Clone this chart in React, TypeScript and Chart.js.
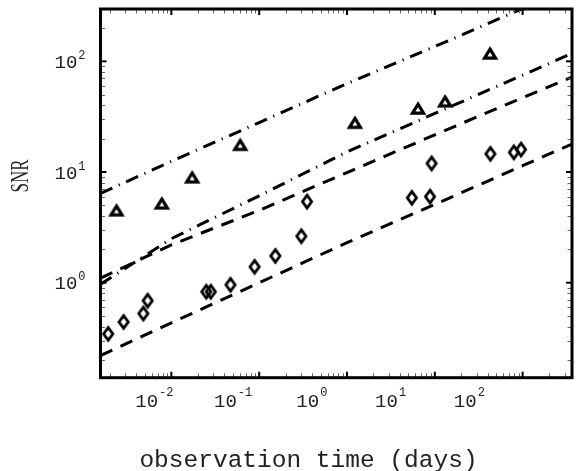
import React, { useEffect, useRef } from "react";
import { Chart, registerables } from "chart.js";

Chart.register(...registerables);

// ---- data ----
const lineTimes = [0.00156, 0.01, 0.1, 1, 10, 100, 365];
const upperDashDot = [6.4, 12.5, 28, 63, 136, 300, 470];
const middleDashDot = [0.97, 2.5, 6.1, 15.2, 33.8, 75, 118];
const upperDashed = [1.1, 2.2, 4.5, 9.9, 21.7, 47, 72];
const lowerDashed = [0.22, 0.434, 1.0, 2.3, 5.1, 11.4, 17.9];

const triangleTimes = [0.00237, 0.00778, 0.01726, 0.0608, 1.23, 6.43, 13.1, 42.5];
const triangleSNR = [4.56, 5.27, 9.06, 17.8, 28.2, 37.9, 44.0, 119.2];

const diamondTimes = [
  0.00191, 0.00286, 0.0048, 0.00537, 0.025, 0.0281, 0.0471, 0.0887, 0.1527,
  0.302, 0.351, 5.48, 8.82, 9.19, 43.0, 79.4, 95.9,
];
const diamondSNR = [
  0.345, 0.442, 0.527, 0.689, 0.829, 0.829, 0.958, 1.393, 1.748, 2.63, 5.41,
  5.85, 6.0, 11.97, 14.6, 15.07, 15.97,
];

const xMin = 0.00156;
const xMax = 365;
const yMin = 0.1387;
const yMax = 297;
const xTickExponents = [-2, -1, 0, 1, 2];
const yTickExponents = [0, 1, 2];
const xTitle = "observation time (days)";
const yTitle = "SNR";

const MONO = '"Liberation Mono", "Courier New", monospace';
const SERIF = '"Liberation Serif", "Times New Roman", serif';

function makeTriangle(): HTMLCanvasElement {
  const c = document.createElement("canvas");
  c.width = 22;
  c.height = 20;
  const g = c.getContext("2d")!;
  g.strokeStyle = "#000";
  g.lineWidth = 3.2;
  g.lineJoin = "miter";
  g.beginPath();
  g.moveTo(11, 6.2);
  g.lineTo(16.5, 15.2);
  g.lineTo(5.5, 15.2);
  g.closePath();
  g.stroke();
  return c;
}

function makeDiamond(): HTMLCanvasElement {
  const c = document.createElement("canvas");
  c.width = 18;
  c.height = 22;
  const g = c.getContext("2d")!;
  g.strokeStyle = "#000";
  g.lineWidth = 2.8;
  g.lineJoin = "miter";
  g.beginPath();
  g.moveTo(9, 11 - 6.4);
  g.lineTo(9 + 4.6, 11);
  g.lineTo(9, 11 + 6.4);
  g.lineTo(9 - 4.6, 11);
  g.closePath();
  g.stroke();
  return c;
}

const decorPlugin = {
  id: "decor",
  afterDatasetsDraw(chart: any) {
    const { ctx, chartArea: a, scales } = chart;
    const xs = scales.x;
    const ys = scales.y;
    ctx.save();
    const seg = (x1: number, y1: number, x2: number, y2: number) => {
      ctx.beginPath();
      ctx.moveTo(x1, y1);
      ctx.lineTo(x2, y2);
      ctx.stroke();
    };
    // minor ticks
    ctx.strokeStyle = "#666";
    ctx.lineWidth = 1;
    for (let k = -3; k <= 2; k++) {
      for (let m = 2; m <= 9; m++) {
        const v = m * Math.pow(10, k);
        if (v > xMin && v < xMax) {
          const px = Math.round(xs.getPixelForValue(v)) + 0.5;
          seg(px, a.bottom, px, a.bottom - 4.5);
          seg(px, a.top, px, a.top + 4.5);
        }
        if (v > yMin && v < yMax) {
          const py = Math.round(ys.getPixelForValue(v)) + 0.5;
          seg(a.left, py, a.left + 4.5, py);
          seg(a.right, py, a.right - 4.5, py);
        }
      }
    }
    // major ticks
    ctx.strokeStyle = "#000";
    ctx.lineWidth = 2;
    xTickExponents.forEach((e) => {
      const px = xs.getPixelForValue(Math.pow(10, e));
      seg(px, a.bottom, px, a.bottom - 6);
      seg(px, a.top, px, a.top + 6);
    });
    yTickExponents.forEach((e) => {
      const py = ys.getPixelForValue(Math.pow(10, e));
      seg(a.left, py, a.left + 6, py);
      seg(a.right, py, a.right - 6, py);
    });
    // frame
    ctx.lineWidth = 3;
    ctx.strokeRect(a.left, a.top, a.right - a.left, a.bottom - a.top);
    ctx.restore();
  },
  afterDraw(chart: any) {
    const { ctx, chartArea: a, scales } = chart;
    const xs = scales.x;
    const ys = scales.y;
    ctx.save();
    ctx.fillStyle = "#222";
    ctx.textBaseline = "alphabetic";
    ctx.textAlign = "left";
    const baseFont = `19px ${MONO}`;
    const expFont = `12px ${MONO}`;
    const measure = (e: number) => {
      ctx.font = baseFont;
      const wb = ctx.measureText("10").width;
      ctx.font = expFont;
      const we = ctx.measureText(String(e)).width;
      return { wb, we, w: wb + 1 + we };
    };
    const drawLabel = (e: number, x0: number, baseY: number, expY: number) => {
      const m = measure(e);
      ctx.font = baseFont;
      ctx.fillText("10", x0, baseY);
      ctx.font = expFont;
      ctx.fillText(String(e), x0 + m.wb + 1, expY);
    };
    // x tick labels (text layer is laid out at ~0.9 of the axis spacing)
    xTickExponents.forEach((e) => {
      const px = xs.getPixelForValue(Math.pow(10, e));
      const c = 0.8968 * px + 0.66;
      const m = measure(e);
      drawLabel(e, c - m.w / 2, a.bottom + 29, a.bottom + 18.3);
    });
    // y tick labels
    yTickExponents.forEach((e) => {
      const py = ys.getPixelForValue(Math.pow(10, e));
      const m = measure(e);
      drawLabel(e, 85.5 - m.w, py + 6.7, py - 2.4);
    });
    // x title
    ctx.font = `24.5px ${MONO}`;
    ctx.textAlign = "center";
    ctx.fillText(xTitle, 308.5, 466.5);
    // y title (condensed serif)
    ctx.translate(20, 176);
    ctx.rotate(-Math.PI / 2);
    ctx.font = `25px ${SERIF}`;
    const natural = ctx.measureText(yTitle).width;
    ctx.scale(33 / natural, 1);
    ctx.textAlign = "center";
    ctx.textBaseline = "middle";
    ctx.fillText(yTitle, 0, 1);
    ctx.restore();
  },
};

export default function App() {
  const ref = useRef<HTMLCanvasElement | null>(null);
  useEffect(() => {
    if (!ref.current) return;
    const tri = makeTriangle();
    const dia = makeDiamond();
    const linePts = (vals: number[]) => lineTimes.map((t, i) => ({ x: t, y: vals[i] }));
    const lineDs = (vals: number[], dash: number[]) => ({
      data: linePts(vals),
      borderColor: "#000",
      borderWidth: 3,
      borderDash: dash,
      borderCapStyle: "butt",
      pointRadius: 0,
      fill: false,
      tension: 0,
      showLine: true,
    });
    const chart = new Chart(ref.current, {
      type: "scatter",
      data: {
        datasets: [
          lineDs(upperDashDot, [13, 7, 1.2, 7]),
          lineDs(middleDashDot, [13, 7, 1.2, 7]),
          lineDs(upperDashed, [13, 9]),
          lineDs(lowerDashed, [13, 9]),
          {
            data: triangleTimes.map((t, i) => ({ x: t, y: triangleSNR[i] })),
            pointStyle: tri,
            pointRadius: 8,
            showLine: false,
          },
          {
            data: diamondTimes.map((t, i) => ({ x: t, y: diamondSNR[i] })),
            pointStyle: dia,
            pointRadius: 8,
            showLine: false,
          },
        ] as any,
      },
      options: {
        animation: false,
        responsive: false,
        layout: { padding: { left: 100.5, top: 5.7, right: 2.3, bottom: 93.3 } },
        plugins: { legend: { display: false }, tooltip: { enabled: false } },
        scales: {
          x: { type: "logarithmic", min: xMin, max: xMax, display: false },
          y: { type: "logarithmic", min: yMin, max: yMax, display: false },
        },
      },
      plugins: [decorPlugin],
    });
    return () => chart.destroy();
  }, []);
  return (
    <div style={{ position: "absolute", left: 0, top: 0, width: 581, height: 471, background: "#fff" }}>
      <canvas ref={ref} width={581} height={471} style={{ display: "block" }} />
    </div>
  );
}
